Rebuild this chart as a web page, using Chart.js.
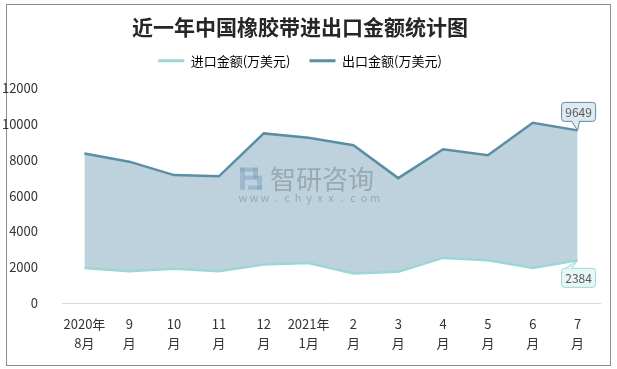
<!DOCTYPE html>
<html>
<head>
<meta charset="utf-8">
<script src="https://cdn.jsdelivr.net/npm/chart.js@4.4.0/dist/chart.umd.min.js"></script>
<style>
  body { margin: 0; background: #fff; }
  #frame { position: absolute; left: 6px; top: 4px; width: 603px; height: 360px; border: 1px solid #8c8c8c; }
  #chart { position: absolute; left: 0; top: 0; }
</style>
</head>
<body>
<div id="frame"></div>
<canvas id="chart" width="617" height="369"></canvas>
<script>
// months (two-line labels)
const months = [
  ["2020年", "8月"], ["9", "月"], ["10", "月"], ["11", "月"], ["12", "月"],
  ["2021年", "1月"], ["2", "月"], ["3", "月"], ["4", "月"], ["5", "月"],
  ["6", "月"], ["7", "月"],
];
// 进口金额(万美元)
const importValues = [1960, 1780, 1910, 1780, 2150, 2240, 1650, 1740, 2520, 2390, 1960, 2384];
// 出口金额(万美元)
const exportValues = [8350, 7900, 7150, 7080, 9480, 9230, 8820, 6980, 8590, 8260, 10070, 9649];

const yTicks = [0, 2000, 4000, 6000, 8000, 10000, 12000];

const importColor = "#9ed6d6";
const exportColor = "#5a8ea5";
const fontFamily = "'Noto Sans CJK SC', 'Noto Sans', sans-serif";

// watermark in the middle of the plot
const watermark = {
  id: "watermark",
  afterDatasetsDraw(chart) {
    const { ctx, chartArea } = chart;
    const cx = (chartArea.left + chartArea.right) / 2;
    const cy = chart.scales.y.getPixelForValue(6950);
    ctx.save();
    ctx.globalAlpha = 0.5;
    ctx.fillStyle = "#7f9dc0";
    const lx = cx - 91;
    ctx.fillRect(lx, cy - 11, 5, 22);
    ctx.fillRect(lx, cy - 11, 18, 4);
    ctx.fillRect(lx + 13, cy - 11, 5, 11);
    ctx.fillRect(lx + 4, cy - 3, 14, 4);
    ctx.fillRect(lx + 8, cy + 7, 14, 4);
    ctx.fillRect(lx + 17, cy - 3, 5, 14);
    ctx.globalAlpha = 0.55;
    ctx.fillStyle = "#7b8790";
    ctx.font = "26px " + fontFamily;
    ctx.textBaseline = "middle";
    ctx.fillText("智研咨询", cx - 61, cy);
    ctx.font = "11px " + fontFamily;
    ctx.textAlign = "center";
    "www.chyxx.com".split("").forEach((c, i) => {
      ctx.fillText(c, cx - 88 + i * 11, cy + 19);
    });
    ctx.restore();
  },
};

// value callouts on the last points
function roundRect(ctx, x, y, w, h, r) {
  ctx.beginPath();
  ctx.moveTo(x + r, y);
  ctx.lineTo(x + w - r, y);
  ctx.quadraticCurveTo(x + w, y, x + w, y + r);
  ctx.lineTo(x + w, y + h - r);
  ctx.quadraticCurveTo(x + w, y + h, x + w - r, y + h);
  ctx.lineTo(x + r, y + h);
  ctx.quadraticCurveTo(x, y + h, x, y + h - r);
  ctx.lineTo(x, y + r);
  ctx.quadraticCurveTo(x, y, x + r, y);
  ctx.closePath();
}

const callouts = {
  id: "callouts",
  afterDatasetsDraw(chart) {
    const { ctx } = chart;
    const last = months.length - 1;
    const boxes = [
      { ds: 1, dy: -28, fill: "#dfe9ef", stroke: "#5a8ea5", tail: "down" },
      { ds: 0, dy: 8, fill: "#e8f6f6", stroke: "#9ed6d6", tail: "up" },
    ];
    ctx.save();
    boxes.forEach((b) => {
      const pt = chart.getDatasetMeta(b.ds).data[last];
      const val = chart.data.datasets[b.ds].data[last];
      const w = 34, h = 19;
      const x = pt.x - 16, y = pt.y + b.dy;
      ctx.fillStyle = b.fill;
      ctx.strokeStyle = b.stroke;
      ctx.lineWidth = 1;
      roundRect(ctx, x, y, w, h, 3);
      ctx.fill();
      ctx.stroke();
      // tail
      ctx.beginPath();
      if (b.tail === "down") {
        ctx.moveTo(pt.x - 6, y + h);
        ctx.lineTo(pt.x, pt.y);
        ctx.lineTo(pt.x + 2, y + h);
      } else {
        ctx.moveTo(pt.x - 12, y);
        ctx.lineTo(pt.x, pt.y);
        ctx.lineTo(pt.x - 6, y);
      }
      ctx.fill();
      ctx.stroke();
      ctx.fillStyle = b.fill;
      ctx.fillRect(b.tail === "down" ? pt.x - 5 : pt.x - 11, b.tail === "down" ? y + h - 2 : y, 6, 2.5);
      ctx.fillStyle = "#595959";
      ctx.font = "12px " + fontFamily;
      ctx.textAlign = "center";
      ctx.textBaseline = "middle";
      ctx.fillText(String(val), x + w / 2, y + h / 2 + 1);
    });
    ctx.restore();
  },
};

new Chart(document.getElementById("chart"), {
  type: "line",
  data: {
    labels: months,
    datasets: [
      {
        label: "进口金额(万美元)",
        data: importValues,
        borderColor: importColor,
        backgroundColor: importColor,
        borderWidth: 2.5,
        pointRadius: 0,
        fill: false,
      },
      {
        label: "出口金额(万美元)",
        data: exportValues,
        borderColor: exportColor,
        backgroundColor: "#bdd2dc",
        borderWidth: 2.5,
        pointRadius: 0,
        fill: 0,
      },
    ],
  },
  options: {
    responsive: false,
    animation: false,
    devicePixelRatio: 1,
    layout: { padding: { left: 0, right: 17, top: 6, bottom: 13 } },
    plugins: {
      title: {
        display: true,
        text: "近一年中国橡胶带进出口金额统计图",
        color: "#262626",
        font: { family: fontFamily, size: 21, weight: "bold", lineHeight: 0.6 },
        padding: { top: 14.7, bottom: 2 },
      },
      // empty spacer under the legend
      subtitle: {
        display: true,
        text: "",
        weight: 500,
        font: { size: 11, lineHeight: 1 },
        padding: 0,
      },
      legend: {
        labels: {
          color: "#595959",
          font: { family: fontFamily, size: 13 },
          boxWidth: 26,
          boxHeight: 3,
          padding: 19,
          generateLabels(chart) {
            return chart.data.datasets.map((d, i) => ({
              text: d.label,
              fillStyle: d.borderColor,
              strokeStyle: d.borderColor,
              lineWidth: 0,
              datasetIndex: i,
            }));
          },
        },
      },
      tooltip: { enabled: false },
    },
    scales: {
      x: {
        offset: true,
        grid: { display: false },
        border: { display: true, color: "#d9d9d9" },
        ticks: {
          color: "#333",
          font: { family: fontFamily, size: 13, lineHeight: 1.5 },
          maxRotation: 0,
          autoSkip: false,
          padding: 3,
        },
      },
      y: {
        min: 0,
        max: 12000,
        afterBuildTicks(axis) {
          axis.ticks = yTicks.map((v) => ({ value: v }));
        },
        afterFit(axis) {
          axis.width = 62;
        },
        grid: { display: false },
        border: { display: false },
        ticks: {
          color: "#333",
          font: { family: fontFamily, size: 13 },
          padding: 16,
          callback: (v) => String(v),
        },
      },
    },
  },
  plugins: [watermark, callouts],
});
</script>
</body>
</html>
